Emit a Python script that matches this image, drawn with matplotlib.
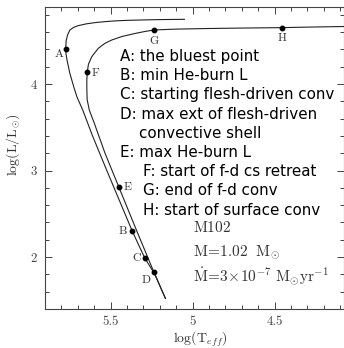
import matplotlib
matplotlib.use('Agg')
import matplotlib.pyplot as plt
from matplotlib.ticker import MultipleLocator

plt.rcParams['mathtext.fontset'] = 'cm'
plt.rcParams['axes.formatter.use_mathtext'] = True

# Evolutionary tracks (log Teff, log L)
outer_logT = [5.166, 5.230, 5.292, 5.368, 5.523, 5.610, 5.670, 5.705, 5.725, 5.748,
              5.764, 5.772, 5.774, 5.771, 5.762, 5.748, 5.725, 5.697, 5.650, 5.595,
              5.530, 5.473, 5.400, 5.300, 5.200, 5.050]
outer_logL = [1.523, 1.800, 1.990, 2.300, 3.000, 3.400, 3.700, 3.850, 3.970, 4.120,
              4.260, 4.350, 4.400, 4.500, 4.570, 4.625, 4.655, 4.675, 4.695, 4.710,
              4.722, 4.730, 4.736, 4.741, 4.745, 4.748]

inner_logT = [5.166, 5.237, 5.340, 5.449, 5.534, 5.600, 5.630, 5.643, 5.645, 5.645,
              5.642, 5.635, 5.615, 5.575, 5.535, 5.493, 5.430, 5.350, 5.290, 5.234,
              5.100, 4.900, 4.700, 4.455, 4.300, 4.077]
inner_logL = [1.523, 1.830, 2.300, 2.806, 3.200, 3.550, 3.700, 3.820, 3.950, 4.050,
              4.140, 4.230, 4.316, 4.413, 4.470, 4.509, 4.550, 4.585, 4.608, 4.625,
              4.635, 4.642, 4.647, 4.652, 4.658, 4.665]

# Marked stages
point_names = ['A', 'B', 'C', 'D', 'E', 'F', 'G', 'H']
point_logT = [5.774, 5.368, 5.292, 5.237, 5.449, 5.642, 5.234, 4.455]
point_logL = [4.400, 2.300, 1.990, 1.830, 2.806, 4.140, 4.625, 4.652]
label_offsets = {'A': (-7, -5), 'B': (-9, 0), 'C': (-8, 0), 'D': (-8, -8),
                 'E': (9, 0), 'F': (8, -1), 'G': (0, -11), 'H': (0, -11)}

legend_lines = ['A: the bluest point', 'B: min He-burn L',
                'C: starting flesh-driven conv', 'D: max ext of flesh-driven',
                '    convective shell', 'E: max He-burn L',
                'F: start of f-d cs retreat', 'G: end of f-d conv',
                'H: start of surface conv']
legend_x = [120, 120, 120, 120, 120, 120, 143, 143, 143]

fig = plt.figure(figsize=(3.44, 3.48), dpi=100)
ax = fig.add_axes([45 / 344, 1 - 309 / 348, 299 / 344, 301.7 / 348])

ax.plot(outer_logT, outer_logL, color='#222222', lw=0.8)
ax.plot(inner_logT, inner_logL, color='#222222', lw=0.8)
ax.plot(point_logT, point_logL, 'o', color='black', ms=3.2, ls='none')

for name, t, l in zip(point_names, point_logT, point_logL):
    dx, dy = label_offsets[name]
    ax.annotate(name, (t, l), xytext=(dx * 0.72, dy * 0.72), textcoords='offset points',
                ha='center', va='center', family='cmr10', fontsize=8.5, color='#333333')

ax.set_xlim(5.9, 4.077)
ax.set_ylim(1.4, 4.887)
ax.xaxis.set_major_locator(MultipleLocator(0.5))
ax.xaxis.set_minor_locator(MultipleLocator(0.1))
ax.yaxis.set_major_locator(MultipleLocator(1))
ax.yaxis.set_minor_locator(MultipleLocator(0.2))
ax.tick_params(which='both', direction='in', top=True, right=True, width=0.7, color='#444444')
ax.tick_params(which='major', length=5, labelsize=9.3, pad=5)
ax.tick_params(which='minor', length=3)
ax.tick_params(axis='y', which='major', pad=6)
ax.xaxis.set_major_formatter(plt.FuncFormatter(lambda v, p: f'{v:g}'))
ax.yaxis.set_major_formatter(plt.FuncFormatter(lambda v, p: f'{v:g}'))
for lab in ax.get_xticklabels() + ax.get_yticklabels():
    lab.set_family('cmr10')
    lab.set_color('#444444')
for sp in ax.spines.values():
    sp.set_linewidth(0.8)
    sp.set_color('#444444')

ax.set_xlabel(r'$\mathrm{log(T}_{\mathit{eff}}\mathrm{)}$', fontsize=10, color='#333333', va='center')
ax.set_ylabel(r'$\mathrm{log(L/L}_{\odot}\mathrm{)}$', fontsize=10, color='#333333')
ax.xaxis.set_label_coords(0.518, -0.1)
ax.yaxis.set_label_coords(-0.078, 0.545)

for i, (txt, px) in enumerate(zip(legend_lines, legend_x)):
    fig.text(px / 344, 1 - (56.5 + 19.2 * i) / 348, txt, family='DejaVu Sans', fontsize=10.9,
             va='center', ha='left', color='black')

fig.text(193 / 344, 1 - 227 / 348, r'$\mathrm{M102}$', fontsize=11, va='center', color='#333333')
fig.text(193 / 344, 1 - 252 / 348, r'$\mathrm{M\!=\!1.02\ \ M}_{\odot}$', fontsize=11,
         va='center', color='#333333')
fig.text(193 / 344, 1 - 276 / 348, r'$\dot{\mathrm{M}}\!=\!3\!\times\!10^{-7}\ \mathrm{M}_{\odot}\mathrm{yr}^{-1}$',
         fontsize=11, va='center', color='#333333')

fig.savefig('out.png', dpi=100)
